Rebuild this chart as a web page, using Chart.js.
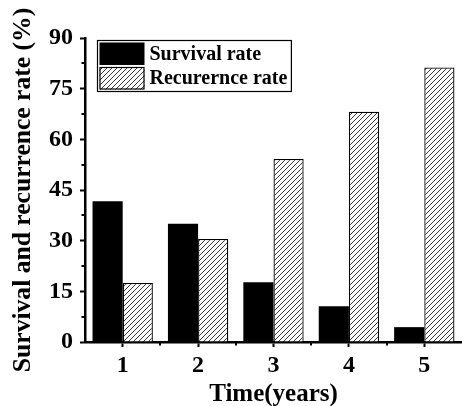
<!DOCTYPE html>
<html>
<head>
<meta charset="utf-8">
<script src="https://cdn.jsdelivr.net/npm/chart.js@4.4.1/dist/chart.umd.min.js"></script>
<style>
html, body { margin: 0; padding: 0; background: #fff; }
#wrap { width: 462px; height: 406px; }
</style>
</head>
<body>
<div id="wrap"><canvas id="grafico" width="462" height="406"></canvas></div>
<script>
"use strict";
/* survival / recurrence bar chart */

var categorias = ["1", "2", "3", "4", "5"];
var supervivencia = [41.7, 35.0, 17.7, 10.6, 4.4];
var recurrencia = [17.5, 30.5, 54.2, 68.2, 81.3];
var etiquetasY = [0, 15, 30, 45, 60, 75, 90];
var menoresY = [7.5, 22.5, 37.5, 52.5, 67.5, 82.5];

var fuente = "'Liberation Serif', 'Times New Roman', serif";

(function () {

  var canvas = document.getElementById("grafico");
  var ctx = canvas.getContext("2d");

  // patron de rayas diagonales
  function crearRayado() {
    var c = document.createElement("canvas");
    c.width = 5; c.height = 5;
    var g = c.getContext("2d");
    g.fillStyle = "#fff";
    g.fillRect(0, 0, 5, 5);
    g.strokeStyle = "#222";
    g.lineWidth = 0.9;
    g.beginPath();
    g.moveTo(0, 5); g.lineTo(5, 0);
    g.moveTo(-1, 1); g.lineTo(1, -1);
    g.moveTo(4, 6); g.lineTo(6, 4);
    g.stroke();
    return ctx.createPattern(c, "repeat");
  }
  var rayado = crearRayado();

  // ticks menores en ambos ejes
  var pluginMenores = {
    id: "menores",
    afterDraw: function (chart) {
      var c = chart.ctx, sy = chart.scales.y, sx = chart.scales.x;
      c.save();
      c.strokeStyle = "#000";
      c.lineWidth = 2;
      menoresY.forEach(function (v) {
        var py = Math.round(sy.getPixelForValue(v));
        c.beginPath();
        c.moveTo(sy.right, py);
        c.lineTo(sy.right - 3.5, py);
        c.stroke();
      });
      for (var i = 0; i < categorias.length - 1; i++) {
        var px = Math.round(sx.getPixelForValue(i + 0.5));
        c.beginPath();
        c.moveTo(px, sx.top);
        c.lineTo(px, sx.top + 3.5);
        c.stroke();
      }
      c.restore();
    }
  };

  // leyenda con recuadro dentro del area
  var pluginLeyenda = {
    id: "leyenda",
    afterDraw: function (chart) {
      var c = chart.ctx, area = chart.chartArea;
      var x0 = area.left + 12.5, y0 = area.top + 2.5;
      var anchoCaja = 45, altoCaja = 22.5, sep = 2;
      c.save();
      c.font = "bold 20px " + fuente;
      c.textBaseline = "middle";
      c.textAlign = "left";
      var maxTexto = 0;
      chart.data.datasets.forEach(function (ds) {
        maxTexto = Math.max(maxTexto, c.measureText(ds.label).width);
      });
      var ancho = 2 + anchoCaja + 5 + maxTexto + 4;
      var alto = 2 + (altoCaja + sep) * chart.data.datasets.length;
      c.strokeStyle = "#000";
      c.lineWidth = 1.2;
      c.strokeRect(x0, y0, ancho, alto);
      chart.data.datasets.forEach(function (ds, i) {
        var bx = x0 + 2, by = y0 + 2 + i * (altoCaja + sep);
        c.fillStyle = ds.backgroundColor;
        c.fillRect(bx, by, anchoCaja, altoCaja);
        if (ds.borderWidth) {
          c.lineWidth = 1.2;
          c.strokeStyle = "#000";
          c.strokeRect(bx + 0.5, by + 0.5, anchoCaja - 1, altoCaja - 1);
        }
        c.fillStyle = "#000";
        c.fillText(ds.label, bx + anchoCaja + 5, by + altoCaja / 2 + 1);
      });
      c.restore();
    }
  };

  new Chart(ctx, {
    type: "bar",
    data: {
      labels: categorias,
      datasets: [{
        label: "Survival rate",
        data: supervivencia,
        backgroundColor: "#000",
        borderWidth: 0
      }, {
        label: "Recurernce rate",
        data: recurrencia,
        backgroundColor: rayado,
        borderColor: "#000",
        borderWidth: 1.3
      }]
    },
    options: {
      responsive: false,
      animation: false,
      devicePixelRatio: 1,
      categoryPercentage: 0.8,
      barPercentage: 1.0,
      layout: { padding: { top: 38, right: 0, left: 0, bottom: 0 } },
      plugins: {
        legend: { display: false },
        tooltip: { enabled: false }
      },
      scales: {
        x: {
          afterFit: function (s) { s.height = 64; },
          grid: { display: true, offset: false, drawOnChartArea: false, drawTicks: true, tickLength: 5, tickWidth: 2, tickColor: "#000" },
          border: { display: true, color: "#000", width: 2.5 },
          ticks: { color: "#000", padding: 4, font: { family: fuente, size: 24, weight: "bold" } },
          title: { display: true, text: "Time(years)", color: "#000", padding: { top: 0, bottom: -4 }, font: { family: fuente, size: 25, weight: "bold" } }
        },
        y: {
          min: 0,
          max: 90,
          afterFit: function (s) { s.width = 85; },
          afterBuildTicks: function (s) {
            s.ticks = etiquetasY.map(function (v) { return { value: v }; });
          },
          grid: { display: true, drawOnChartArea: false, drawTicks: true, tickLength: 5, tickWidth: 2, tickColor: "#000" },
          border: { display: true, color: "#000", width: 2.5 },
          ticks: { color: "#000", padding: 7, font: { family: fuente, size: 24, weight: "bold" } },
          title: { display: true, text: "Survival and recurrence rate (%)", color: "#000", padding: { top: 8, bottom: 0 }, font: { family: fuente, size: 25.6, weight: "bold" } }
        }
      }
    },
    plugins: [pluginMenores, pluginLeyenda]
  });

})();
</script>
</body>
</html>
